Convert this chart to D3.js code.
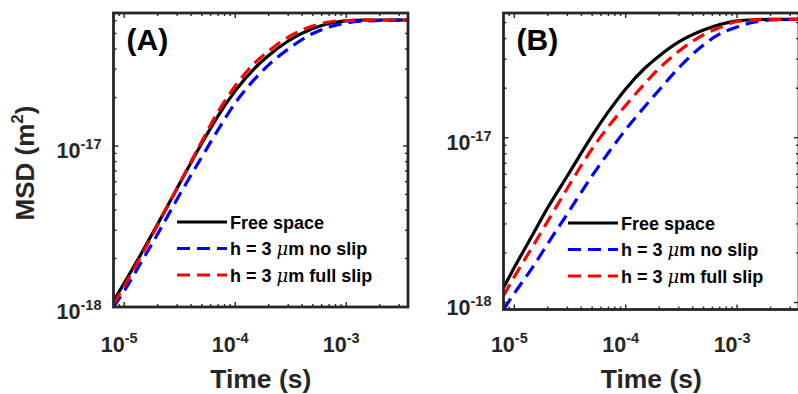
<!DOCTYPE html>
<html>
<head>
<meta charset="utf-8">
<script src="https://cdn.jsdelivr.net/npm/d3@7"></script>
<style>
  body { margin: 0; background: #fff; }
  svg { display: block; font-family: "Liberation Sans", Arial, sans-serif; }
</style>
</head>
<body>
<div id="chart"></div>
<script>
// time grid (s), shared by both panels
const times = [8e-6, 1e-5, 1.5e-5, 2e-5, 3e-5, 5e-5, 7e-5, 1e-4, 1.5e-4, 2e-4, 3e-4, 5e-4, 7e-4, 1e-3, 1.5e-3, 2e-3, 3.6e-3];

// panel A, MSD (m^2)
const freeA = [1.09e-18, 1.41e-18, 2.29e-18, 3.28e-18, 5.48e-18, 1.04e-17, 1.54e-17, 2.20e-17, 3.05e-17, 3.65e-17, 4.49e-17, 5.37e-17, 5.77e-17, 5.98e-17, 6.06e-17, 6.06e-17, 6.06e-17];
const noSlipA = [1.0e-18, 1.26e-18, 2.02e-18, 2.84e-18, 4.69e-18, 8.55e-18, 1.26e-17, 1.85e-17, 2.61e-17, 3.19e-17, 4.00e-17, 5.00e-17, 5.48e-17, 5.81e-17, 5.98e-17, 6.02e-17, 6.06e-17];
const fullSlipA = [1.04e-18, 1.35e-18, 2.23e-18, 3.23e-18, 5.48e-18, 1.07e-17, 1.63e-17, 2.36e-17, 3.28e-17, 3.89e-17, 4.75e-17, 5.56e-17, 5.89e-17, 6.02e-17, 6.06e-17, 6.06e-17, 6.06e-17];

// panel B, MSD (m^2)
const freeB = [1.23e-18, 1.63e-18, 2.66e-18, 3.77e-18, 5.88e-18, 1.03e-17, 1.44e-17, 1.98e-17, 2.66e-17, 3.14e-17, 3.82e-17, 4.51e-17, 4.87e-17, 5.12e-17, 5.21e-17, 5.23e-17, 5.23e-17];
const noSlipB = [9.07e-19, 1.135e-18, 1.68e-18, 2.28e-18, 3.46e-18, 5.88e-18, 8.11e-18, 1.12e-17, 1.56e-17, 1.95e-17, 2.66e-17, 3.66e-17, 4.27e-17, 4.71e-17, 5.07e-17, 5.19e-17, 5.23e-17];
const fullSlipB = [1.10e-18, 1.43e-18, 2.25e-18, 3.12e-18, 4.94e-18, 8.58e-18, 1.17e-17, 1.57e-17, 2.15e-17, 2.64e-17, 3.35e-17, 4.22e-17, 4.67e-17, 5.08e-17, 5.19e-17, 5.23e-17, 5.23e-17];

const seriesNames = ["Free space", "h = 3 \u03bcm no slip", "h = 3 \u03bcm full slip"];
const seriesColors = ["#000000", "#0000ff", "#ff0000"];
const seriesDash = [null, "13,7", "13,7"];

const xTicks = [1e-5, 1e-4, 1e-3];
const yTicks = [1e-18, 1e-17];
const timeDomain = [8e-6, 3.6e-3];

const axisColor = "#262626";

const svg = d3.select("#chart").append("svg")
  .attr("width", 798)
  .attr("height", 394);

function exponentLabel(sel, v, size, supSize) {
  const e = Math.round(Math.log10(v));
  sel.append("tspan").attr("font-size", size).text("10");
  sel.append("tspan").attr("font-size", supSize).attr("dy", -9).text(String(e));
}

function drawPanel(p) {
  const x = d3.scaleLog().domain(timeDomain).range([p.left, p.right]);
  const y = d3.scaleLog().domain(p.yDomain).range([p.bottom, p.top]);
  const g = svg.append("g");

  g.append("clipPath").attr("id", "clip" + p.name)
    .append("rect")
    .attr("x", p.left).attr("y", p.top)
    .attr("width", p.right - p.left).attr("height", p.bottom - p.top);

  const line = d3.line()
    .x((d) => x(d[0]))
    .y((d) => y(d[1]))
    .curve(d3.curveMonotoneX);

  // curves: black, blue, red (red on top)
  p.series.forEach((vals, i) => {
    g.append("path")
      .datum(times.map((t, j) => [t, vals[j]]))
      .attr("clip-path", `url(#clip${p.name})`)
      .attr("d", line)
      .attr("fill", "none")
      .attr("stroke", seriesColors[i])
      .attr("stroke-width", 3.2)
      .attr("stroke-dasharray", seriesDash[i]);
  });

  // minor + major ticks
  const xMinor = [];
  [-6, -5, -4, -3].forEach((k) => {
    for (let m = 2; m <= 9; m++) {
      const v = m * Math.pow(10, k);
      if (v > timeDomain[0] && v < timeDomain[1]) xMinor.push(v);
    }
  });
  const yMinor = [];
  [-19, -18, -17].forEach((k) => {
    for (let m = 2; m <= 9; m++) {
      const v = m * Math.pow(10, k);
      if (v > p.yDomain[0] && v < p.yDomain[1]) yMinor.push(v);
    }
  });

  const ticks = g.append("g").attr("stroke", axisColor).attr("stroke-width", 1.4);
  xMinor.concat(xTicks).forEach((v) => {
    const len = xTicks.includes(v) ? 5 : 3;
    const px = x(v);
    if (px > p.right) return;
    ticks.append("line").attr("x1", px).attr("x2", px).attr("y1", p.bottom).attr("y2", p.bottom - len);
    ticks.append("line").attr("x1", px).attr("x2", px).attr("y1", p.top).attr("y2", p.top + len);
  });
  yMinor.concat(yTicks).forEach((v) => {
    const len = yTicks.includes(v) ? 5 : 3;
    const py = y(v);
    ticks.append("line").attr("x1", p.left).attr("x2", p.left + len).attr("y1", py).attr("y2", py);
    ticks.append("line").attr("x1", p.right).attr("x2", p.right - len).attr("y1", py).attr("y2", py);
  });

  // box
  g.append("rect")
    .attr("x", p.left).attr("y", p.top)
    .attr("width", p.right - p.left).attr("height", p.bottom - p.top)
    .attr("fill", "none")
    .attr("stroke", axisColor)
    .attr("stroke-width", 2.8);

  // x tick labels
  xTicks.forEach((v) => {
    const t = g.append("text")
      .attr("x", x(v) - 5)
      .attr("y", 352)
      .attr("text-anchor", "middle")
      .attr("fill", axisColor)
      .attr("font-weight", "bold");
    exponentLabel(t, v, 21.5, 14.5);
  });

  // y tick labels
  yTicks.forEach((v) => {
    const t = g.append("text")
      .attr("x", p.left - 12)
      .attr("y", y(v) + 12)
      .attr("text-anchor", "end")
      .attr("fill", axisColor)
      .attr("font-weight", "bold");
    exponentLabel(t, v, 21.5, 14.5);
  });

  // x axis title
  g.append("text")
    .attr("x", (p.left + p.right) / 2)
    .attr("y", 388)
    .attr("text-anchor", "middle")
    .attr("fill", axisColor)
    .attr("font-weight", "bold")
    .attr("font-size", 26.5)
    .text("Time (s)");

  // panel letter
  g.append("text")
    .attr("x", p.left + 13)
    .attr("y", 50)
    .attr("fill", "#000")
    .attr("font-weight", "bold")
    .attr("font-size", 30)
    .text(p.letter);

  // legend
  seriesNames.forEach((name, i) => {
    const ly = p.legendY + i * 26.5;
    g.append("line")
      .attr("x1", p.legendX).attr("x2", p.legendX + 50)
      .attr("y1", ly).attr("y2", ly)
      .attr("stroke", seriesColors[i])
      .attr("stroke-width", 3.2)
      .attr("stroke-dasharray", seriesDash[i]);
    const t = g.append("text")
      .attr("x", p.legendX + 53)
      .attr("y", ly + 6.5)
      .attr("fill", "#000")
      .attr("font-weight", "bold")
      .attr("font-size", 18);
    if (i === 0) {
      t.text(name);
    } else {
      const parts = name.split("\u03bc");
      t.append("tspan").text(parts[0]);
      t.append("tspan").attr("font-style", "italic").attr("font-weight", "normal").attr("font-family", "DejaVu Serif").text("\u03bc");
      t.append("tspan").text(parts[1]);
    }
  });
}

drawPanel({
  name: "A", letter: "(A)",
  left: 113.5, right: 408, top: 13, bottom: 307,
  yDomain: [1e-18, 6.7e-17],
  series: [freeA, noSlipA, fullSlipA],
  legendX: 177, legendY: 222
});

drawPanel({
  name: "B", letter: "(B)",
  left: 503.5, right: 799, top: 13, bottom: 309.5,
  yDomain: [9.07e-19, 5.72e-17],
  series: [freeB, noSlipB, fullSlipB],
  legendX: 568, legendY: 223
});

// y axis title (left panel only)
const yTitle = svg.append("text")
  .attr("transform", "translate(34,163) rotate(-90)")
  .attr("text-anchor", "middle")
  .attr("fill", axisColor)
  .attr("font-weight", "bold")
  .attr("font-size", 26);
yTitle.append("tspan").text("MSD (m");
yTitle.append("tspan").attr("font-size", 17).attr("dy", -11).text("2");
yTitle.append("tspan").attr("dy", 11).text(")");
</script>
</body>
</html>
